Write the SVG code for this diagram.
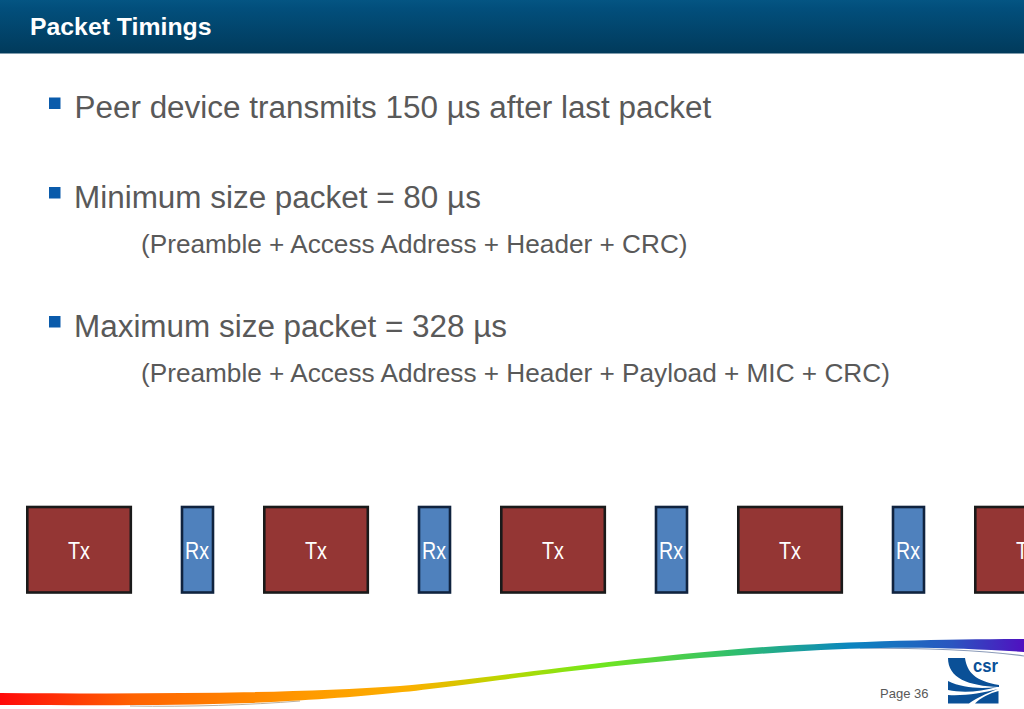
<svg xmlns="http://www.w3.org/2000/svg" width="1024" height="709" viewBox="0 0 1024 709">
<style>
text{font-family:"Liberation Sans",Arial,sans-serif}
.b{font-size:31.45px;fill:#595959}
.s{font-size:26.2px;fill:#595959}
.bul{fill:#0a5bab}
.tx{fill:#943634;stroke:#1a1a1a;stroke-width:2.6}
.rx{fill:#4f81bd;stroke:#10233f;stroke-width:2.6}
.l{font-size:23.5px;fill:#fff;text-anchor:middle}
</style>
<defs>
<linearGradient id="h" x1="0" y1="0" x2="0" y2="1"><stop offset="0" stop-color="#045583"/><stop offset=".15" stop-color="#024f7c"/><stop offset="1" stop-color="#013a5b"/></linearGradient>
<linearGradient id="r" gradientUnits="userSpaceOnUse" x1="0" y1="0" x2="1024" y2="0"><stop offset="0" stop-color="#ff0a0a"/><stop offset=".13" stop-color="#ff6200"/><stop offset=".3" stop-color="#ff9a00"/><stop offset=".4" stop-color="#fbb000"/><stop offset=".49" stop-color="#bcd600"/><stop offset=".58" stop-color="#74e81a"/><stop offset=".72" stop-color="#2ebd6f"/><stop offset=".83" stop-color="#0b86c0"/><stop offset=".93" stop-color="#2a55c0"/><stop offset="1" stop-color="#5010c0"/></linearGradient>
</defs>
<rect width="1024" height="709" fill="#fff"/>
<rect id="header" width="1024" height="53.500" fill="url(#h)"/>
<text x="30" y="35" font-size="24.800" font-weight="700" fill="#fff">Packet Timings</text>
<g id="bullets">
<rect class="bul" x="49" y="97.500" width="11.500" height="11.500"/>
<text class="b" x="74.500" y="118">Peer device transmits 150 µs after last packet</text>
<rect class="bul" x="49" y="187" width="11.500" height="11.500"/>
<text class="b" x="74" y="208">Minimum size packet = 80 µs</text>
<text class="s" x="141" y="253">(Preamble + Access Address + Header + CRC)</text>
<rect class="bul" x="49" y="316" width="11.500" height="11.500"/>
<text class="b" x="74" y="336.500">Maximum size packet = 328 µs</text>
<text class="s" x="141" y="382">(Preamble + Access Address + Header + Payload + MIC + CRC)</text>
</g>
<g id="connectors"/>
<g id="tx1"><rect class="tx" x="27.300" y="507" width="103.500" height="85.500"/><text class="l" x="79" y="558.500" textLength="22" lengthAdjust="spacingAndGlyphs">Tx</text></g>
<g id="rx1"><rect class="rx" x="182" y="507" width="31" height="85.500"/><text class="l" x="197" y="558.500" textLength="24" lengthAdjust="spacingAndGlyphs">Rx</text></g>
<g id="tx2"><rect class="tx" x="264.300" y="507" width="103.500" height="85.500"/><text class="l" x="316" y="558.500" textLength="22" lengthAdjust="spacingAndGlyphs">Tx</text></g>
<g id="rx2"><rect class="rx" x="419" y="507" width="31" height="85.500"/><text class="l" x="434" y="558.500" textLength="24" lengthAdjust="spacingAndGlyphs">Rx</text></g>
<g id="tx3"><rect class="tx" x="501.300" y="507" width="103.500" height="85.500"/><text class="l" x="553" y="558.500" textLength="22" lengthAdjust="spacingAndGlyphs">Tx</text></g>
<g id="rx3"><rect class="rx" x="656" y="507" width="31" height="85.500"/><text class="l" x="671" y="558.500" textLength="24" lengthAdjust="spacingAndGlyphs">Rx</text></g>
<g id="tx4"><rect class="tx" x="738.300" y="507" width="103.500" height="85.500"/><text class="l" x="790" y="558.500" textLength="22" lengthAdjust="spacingAndGlyphs">Tx</text></g>
<g id="rx4"><rect class="rx" x="893" y="507" width="31" height="85.500"/><text class="l" x="908" y="558.500" textLength="24" lengthAdjust="spacingAndGlyphs">Rx</text></g>
<g id="tx5"><rect class="tx" x="975.300" y="507" width="103.500" height="85.500"/><text class="l" x="1027" y="558.500" textLength="22" lengthAdjust="spacingAndGlyphs">Tx</text></g>
<g id="swoosh">
<path d="M130 706C190 707 250 705 300 701" fill="none" stroke="#b9b0a0" stroke-width="1"/>
<path d="M860 648C920 648 980 650 1024 656" fill="none" stroke="#8a9ab8" stroke-width="1.200"/>
<path d="M0 693C130 694 290 694 400 686C480 680 600 660 750 648C850 641 950 639 1024 639V652C980 649 930 647 880 648C820 649 760 654 700 658C620 665 560 672 500 680C440 688 380 697 250 703C170 706 80 705 0 705Z" fill="url(#r)"/>
</g>
<text x="880" y="698" font-size="13" fill="#595959">Page 36</text>
<g id="logo" fill="#0a5097">
<path d="M948 658H965C967 672 975 681 999 685V687C968 686 948 678 948 658Z"/>
<path d="M948 681C962 688 980 689 997 687C980 692 962 693 948 690Z"/>
<path d="M948 695C965 696 982 693 998 689C985 694 975 699 969 703.500H948Z"/>
<path d="M975 703.500C980 698 990 693 998.500 691V703.500Z"/>
<text x="973" y="671.500" font-size="18" font-weight="700" textLength="25" lengthAdjust="spacingAndGlyphs">csr</text>
</g>
</svg>
